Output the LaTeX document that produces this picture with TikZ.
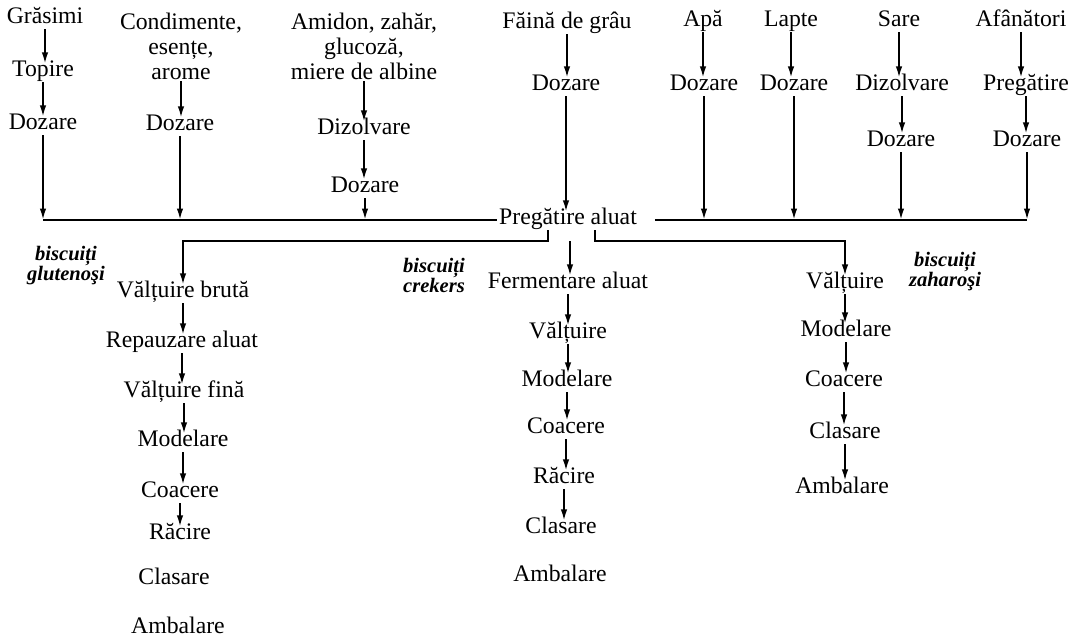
\documentclass[tikz,border=0pt]{standalone}
\usepackage{fontspec}
\setmainfont{Liberation Serif}
\usetikzlibrary{arrows.meta,calc}

\begin{document}
\begin{tikzpicture}[x=0.02cm, y=-0.02cm,
			proc/.style={inner sep=1pt, text height=0.6em, text depth=0.2em,
				font=\fontsize{13.5}{14.2}\selectfont},
			multi/.style={inner sep=1pt, align=center, font=\fontsize{13.5}{14.2}\selectfont},
			kind/.style={inner sep=1pt, align=center,
				font=\fontsize{11.7}{11.4}\selectfont\bfseries\itshape},
			flow/.style={->, line width=1.1pt},
			>={Latex[length=2.3mm,width=1.3mm]}]
	\useasboundingbox (0,0) rectangle (1071,639);
	% raw materials
	\node (gras) at (45,20) [proc] {Grăsimi};
	\node (topire) at (43,73) [proc] {Topire};
	\node (dozGras) at (43,126) [proc] {Dozare};
	\node (cond) at (181,46) [multi] {Condimente,\\esențe,\\arome};
	\node (dozCond) at (180,127) [proc] {Dozare};
	\node (amidon) at (364,46) [multi] {Amidon, zahăr,\\glucoză,\\miere de albine};
	\node (dizAm) at (364,131) [proc] {Dizolvare};
	\node (dozAm) at (365,189) [proc] {Dozare};
	\node (faina) at (567,25) [proc] {Făină de grâu};
	\node (dozFaina) at (566,87) [proc] {Dozare};
	\node (apa) at (703,23) [proc] {Apă};
	\node (dozApa) at (704,87) [proc] {Dozare};
	\node (lapte) at (791,23) [proc] {Lapte};
	\node (dozLapte) at (794,87) [proc] {Dozare};
	\node (sare) at (899,23) [proc] {Sare};
	\node (dizSare) at (902,87) [proc] {Dizolvare};
	\node (dozSare) at (901,143) [proc] {Dozare};
	\node (afan) at (1021,23) [proc] {Afânători};
	\node (pregAfan) at (1026,87) [proc] {Pregătire};
	\node (dozAfan) at (1027,143) [proc] {Dozare};
	\node (aluat) at (568,221) [proc] {Pregătire aluat};
	\coordinate (bus) at (0,220);

	\draw[flow] (gras) -- (gras |- topire.north);
	\draw[flow] (topire) -- (topire |- dozGras.north);
	\draw[flow] (cond) -- (cond |- dozCond.north);
	\draw[flow] (amidon) -- (amidon |- dizAm.north);
	\draw[flow] (dizAm) -- (dizAm |- dozAm.north);
	\draw[flow] (faina) -- (faina |- dozFaina.north);
	\draw[flow] (apa) -- (apa |- dozApa.north);
	\draw[flow] (lapte) -- (lapte |- dozLapte.north);
	\draw[flow] (sare) -- (sare |- dizSare.north);
	\draw[flow] (dizSare) -- (dizSare |- dozSare.north);
	\draw[flow] (afan) -- (afan |- pregAfan.north);
	\draw[flow] (pregAfan) -- (pregAfan |- dozAfan.north);

	% collecting line
	\coordinate (busR) at ($(aluat.east)+(16,0)$);
	\draw[line width=1.1pt] (dozGras |- bus) -- (bus -| aluat.west);
	\draw[line width=1.1pt] (busR |- bus) -- (dozAfan |- bus);
	\draw[flow] (dozGras) -- (dozGras |- bus);
	\draw[flow] (dozCond) -- (dozCond |- bus);
	\draw[flow] (dozAm) -- (dozAm |- bus);
	\draw[flow] (dozFaina) -- (dozFaina |- aluat.north);
	\draw[flow] (dozApa) -- (dozApa |- bus);
	\draw[flow] (dozLapte) -- (dozLapte |- bus);
	\draw[flow] (dozSare) -- (dozSare |- bus);
	\draw[flow] (dozAfan) -- (dozAfan |- bus);

	% three kinds of biscuits
	\node (kGlut) at (66,266) [kind] {biscuiți\\glutenoşi};
	\node (kCrek) at (434,275) [kind] {biscuiți\\crekers};
	\node (kZah) at (945,272) [kind] {biscuiți\\zaharoşi};

	\node (glVb) at (183,294) [proc] {Vălțuire brută};
	\node (glRep) at (182,344) [proc] {Repauzare aluat};
	\node (glVf) at (184,394) [proc] {Vălțuire fină};
	\node (glMod) at (183,443) [proc] {Modelare};
	\node (glCoac) at (180,494) [proc] {Coacere};
	\node (glRac) at (180,536) [proc] {Răcire};
	\node (glClas) at (174,581) [proc] {Clasare};
	\node (glAmb) at (178,630) [proc] {Ambalare};

	\node (crFerm) at (568,285) [proc] {Fermentare aluat};
	\node (crVal) at (568,335) [proc] {Vălțuire};
	\node (crMod) at (567,383) [proc] {Modelare};
	\node (crCoac) at (566,430) [proc] {Coacere};
	\node (crRac) at (564,480) [proc] {Răcire};
	\node (crClas) at (561,530) [proc] {Clasare};
	\node (crAmb) at (560,578) [proc] {Ambalare};

	\node (zhVal) at (845,285) [proc] {Vălțuire};
	\node (zhMod) at (846,333) [proc] {Modelare};
	\node (zhCoac) at (844,383) [proc] {Coacere};
	\node (zhClas) at (845,435) [proc] {Clasare};
	\node (zhAmb) at (842,490) [proc] {Ambalare};

	\coordinate (splitL) at ($(aluat.south)+(-20,0)$);
	\coordinate (splitM) at ($(aluat.south)+(2,11)$);
	\coordinate (splitR) at ($(aluat.south)+(27,0)$);
	\draw[flow] (splitL) -- ++(0,11) -| (glVb);
	\draw[flow] (splitM) -- (splitM |- crFerm.north);
	\draw[flow] (splitR) -- ++(0,11) -| (zhVal);

	\draw[flow] (glVb) -- (glVb |- glRep.north);
	\draw[flow] (glRep) -- (glRep |- glVf.north);
	\draw[flow] (glVf) -- (glVf |- glMod.north);
	\draw[flow] (glMod) -- (glMod |- glCoac.north);
	\draw[flow] (glCoac) -- (glCoac |- glRac.north);

	\draw[flow] (crFerm) -- (crFerm |- crVal.north);
	\draw[flow] (crVal) -- (crVal |- crMod.north);
	\draw[flow] (crMod) -- (crMod |- crCoac.north);
	\draw[flow] (crCoac) -- (crCoac |- crRac.north);
	\draw[flow] (crRac) -- (crRac |- crClas.north);

	\draw[flow] (zhVal) -- (zhVal |- zhMod.north);
	\draw[flow] (zhMod) -- (zhMod |- zhCoac.north);
	\draw[flow] (zhCoac) -- (zhCoac |- zhClas.north);
	\draw[flow] (zhClas) -- (zhClas |- zhAmb.north);
\end{tikzpicture}
\end{document}
